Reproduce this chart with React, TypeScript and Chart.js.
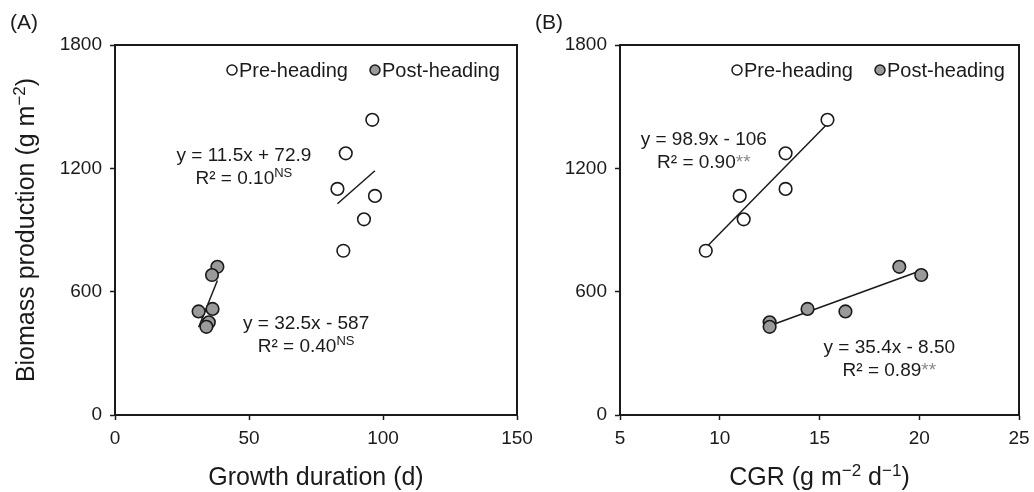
import React, { useEffect, useRef } from "react";
import { Chart, registerables } from "chart.js";

Chart.register(...registerables);

// ---------- data ----------
const preBiomass = [1436, 1273, 1100, 1066, 952, 799];
const preDuration = [96.0, 86.1, 83.0, 97.0, 92.9, 85.2];
const preCGR = [15.4, 13.3, 13.3, 11.0, 11.2, 9.3];

const postBiomass = [721, 681, 516, 504, 451, 429];
const postDuration = [38.2, 36.2, 36.4, 31.2, 35.0, 34.1];
const postCGR = [19.0, 20.1, 14.4, 16.3, 12.5, 12.5];

// regression equations [pre, post]
const durationFitSlopes = [11.5, 32.5];
const durationFitIntercepts = [72.9, -587];
const cgrFitSlopes = [98.9, 35.4];
const cgrFitIntercepts = [-106, -8.5];

const yTicks = [0, 600, 1200, 1800];
const durationTicks = [0, 50, 100, 150];
const cgrTicks = [5, 10, 15, 20, 25];

const seriesNames = ["Pre-heading", "Post-heading"];

const FONT = "'Liberation Sans', Arial, Helvetica, sans-serif";
const INK = "#1a1a1a";
const PRE_FILL = "#ffffff";
const POST_FILL = "#9a9a9a";
const STAR = "#8a8a8a";

type Seg = { t: string; sup?: boolean; color?: string };

function drawRich(
  ctx: CanvasRenderingContext2D,
  segs: Seg[],
  x: number,
  yMid: number,
  size: number,
  align: "center" | "left" = "center"
) {
  const widths = segs.map((s) => {
    ctx.font = `${s.sup ? Math.round(size * 0.66) : size}px ${FONT}`;
    return ctx.measureText(s.t).width;
  });
  const total = widths.reduce((a, b) => a + b, 0);
  let cx = align === "center" ? x - total / 2 : x;
  const base = yMid + size * 0.36;
  ctx.textAlign = "left";
  ctx.textBaseline = "alphabetic";
  segs.forEach((s, i) => {
    ctx.font = `${s.sup ? Math.round(size * 0.66) : size}px ${FONT}`;
    ctx.fillStyle = s.color || INK;
    ctx.fillText(s.t, cx, s.sup ? base - size * 0.38 : base);
    cx += widths[i];
  });
}

type Annot = { x: number; y: number; lines: Seg[][] };

type PanelProps = {
  left: number;
  width: number;
  plotLeft: number;
  plotRight: number;
  label: string;
  xs: [number[], number[]];
  slopes: number[];
  intercepts: number[];
  xMin: number;
  xMax: number;
  xTicks: number[];
  xTitle: Seg[];
  yTitle?: Seg[];
  annots: Annot[];
};

function Panel(p: PanelProps) {
  const ref = useRef<HTMLCanvasElement | null>(null);

  useEffect(() => {
    const canvas = ref.current;
    if (!canvas) return;
    const H = 492;
    const plotTop = 45;
    const plotBottom = 415;

    const fitData = (k: number) => {
      const xsArr = p.xs[k];
      const lo = Math.min(...xsArr);
      const hi = Math.max(...xsArr);
      return [lo, hi].map((x) => ({ x, y: p.slopes[k] * x + p.intercepts[k] }));
    };

    const textPlugin = {
      id: "panelText",
      afterDraw(chart: any) {
        const ctx: CanvasRenderingContext2D = chart.ctx;
        const ca = chart.chartArea;
        const xs = chart.scales.x;
        const ys = chart.scales.y;
        ctx.save();
        // box (top + right)
        ctx.strokeStyle = INK;
        ctx.lineWidth = 2;
        ctx.beginPath();
        ctx.moveTo(ca.left, ca.top);
        ctx.lineTo(ca.right, ca.top);
        ctx.lineTo(ca.right, ca.bottom);
        ctx.stroke();

        // panel label
        ctx.fillStyle = INK;
        ctx.font = `21px ${FONT}`;
        ctx.textAlign = "left";
        ctx.textBaseline = "middle";
        ctx.fillText(p.label, 10, 23);

        // legend
        const ly = ca.top + 25;
        let lx = ca.left + 117;
        const fills = [PRE_FILL, POST_FILL];
        seriesNames.forEach((name, i) => {
          ctx.beginPath();
          ctx.arc(lx, ly, 5, 0, Math.PI * 2);
          ctx.fillStyle = fills[i];
          ctx.fill();
          ctx.lineWidth = 1.5;
          ctx.strokeStyle = INK;
          ctx.stroke();
          drawRich(ctx, [{ t: name }], lx + 7, ly, 20, "left");
          lx += 143;
        });

        // equations
        p.annots.forEach((a) => {
          const px = xs.getPixelForValue(a.x);
          const py = ys.getPixelForValue(a.y);
          a.lines.forEach((ln, j) => drawRich(ctx, ln, px, py + j * 23, 19, "center"));
        });

        // x title
        drawRich(ctx, p.xTitle, (ca.left + ca.right) / 2, 476, 25, "center");

        // y title
        if (p.yTitle) {
          ctx.save();
          ctx.translate(25, (ca.top + ca.bottom) / 2);
          ctx.rotate(-Math.PI / 2);
          drawRich(ctx, p.yTitle, 0, 0, 25, "center");
          ctx.restore();
        }
        ctx.restore();
      },
    };

    const chart = new Chart(canvas, {
      type: "scatter",
      data: {
        datasets: [
          {
            label: seriesNames[0],
            data: p.xs[0].map((x, i) => ({ x, y: preBiomass[i] })),
            pointRadius: 6.3,
            pointBackgroundColor: PRE_FILL,
            pointBorderColor: INK,
            pointBorderWidth: 1.6,
            showLine: false,
          },
          {
            label: seriesNames[1],
            data: p.xs[1].map((x, i) => ({ x, y: postBiomass[i] })),
            pointRadius: 6.3,
            pointBackgroundColor: POST_FILL,
            pointBorderColor: INK,
            pointBorderWidth: 1.6,
            showLine: false,
          },
          {
            label: "fit pre",
            data: fitData(0),
            showLine: true,
            borderColor: INK,
            borderWidth: 1.5,
            pointRadius: 0,
          },
          {
            label: "fit post",
            data: fitData(1),
            showLine: true,
            borderColor: INK,
            borderWidth: 1.5,
            pointRadius: 0,
          },
        ],
      },
      options: {
        animation: false,
        responsive: false,
        devicePixelRatio: 1,
        layout: {
          padding: { top: plotTop, right: p.width - p.plotRight, bottom: 0, left: 0 },
        },
        plugins: {
          legend: { display: false },
          tooltip: { enabled: false },
        },
        scales: {
          x: {
            type: "linear",
            min: p.xMin,
            max: p.xMax,
            afterBuildTicks: (s: any) => {
              s.ticks = p.xTicks.map((v) => ({ value: v }));
            },
            afterFit: (s: any) => {
              s.height = H - plotBottom;
              s.paddingLeft = 0;
              s.paddingRight = 0;
            },
            ticks: {
              color: INK,
              font: { family: FONT, size: 19 },
              padding: 7,
              maxRotation: 0,
              callback: (v: any) => String(v),
            },
            grid: {
              drawOnChartArea: false,
              drawTicks: true,
              tickLength: 5,
              tickColor: INK,
              tickWidth: 1.5,
            },
            border: { display: true, color: INK, width: 2 },
          },
          y: {
            type: "linear",
            min: 0,
            max: 1800,
            afterBuildTicks: (s: any) => {
              s.ticks = yTicks.map((v) => ({ value: v }));
            },
            afterFit: (s: any) => {
              s.width = p.plotLeft;
              s.paddingTop = 0;
              s.paddingBottom = 0;
            },
            ticks: {
              color: INK,
              font: { family: FONT, size: 19 },
              padding: 8,
              callback: (v: any) => String(v),
            },
            grid: {
              drawOnChartArea: false,
              drawTicks: true,
              tickLength: 5,
              tickColor: INK,
              tickWidth: 1.5,
            },
            border: { display: true, color: INK, width: 2 },
          },
        },
      },
      plugins: [textPlugin],
    } as any);

    return () => chart.destroy();
  }, []);

  return (
    <canvas
      ref={ref}
      width={p.width}
      height={492}
      style={{ position: "absolute", left: p.left, top: 0, width: p.width, height: 492 }}
    />
  );
}

export default function App() {
  const fmtNS = (r: string): Seg[] => [{ t: `R² = ${r}` }, { t: "NS", sup: true }];
  const fmtStar = (r: string): Seg[] => [{ t: `R² = ${r}` }, { t: "**", color: STAR }];
  return (
    <div
      style={{
        position: "fixed",
        left: 0,
        top: 0,
        width: 1034,
        height: 492,
        background: "#fff",
        overflow: "hidden",
      }}
    >
      <Panel
        left={0}
        width={545}
        plotLeft={115}
        plotRight={517}
        label="(A)"
        xs={[preDuration, postDuration]}
        slopes={durationFitSlopes}
        intercepts={durationFitIntercepts}
        xMin={0}
        xMax={150}
        xTicks={durationTicks}
        xTitle={[{ t: "Growth duration (d)" }]}
        yTitle={[{ t: "Biomass production (g m" }, { t: "−2", sup: true }, { t: ")" }]}
        annots={[
          { x: 48.1, y: 1269, lines: [[{ t: "y = 11.5x + 72.9" }], fmtNS("0.10")] },
          { x: 71.3, y: 452, lines: [[{ t: "y = 32.5x - 587" }], fmtNS("0.40")] },
        ]}
      />
      <Panel
        left={525}
        width={509}
        plotLeft={95}
        plotRight={494}
        label="(B)"
        xs={[preCGR, postCGR]}
        slopes={cgrFitSlopes}
        intercepts={cgrFitIntercepts}
        xMin={5}
        xMax={25}
        xTicks={cgrTicks}
        xTitle={[
          { t: "CGR (g m" },
          { t: "−2", sup: true },
          { t: " d" },
          { t: "−1", sup: true },
          { t: ")" },
        ]}
        annots={[
          { x: 9.2, y: 1347, lines: [[{ t: "y = 98.9x - 106" }], fmtStar("0.90")] },
          { x: 18.5, y: 336, lines: [[{ t: "y = 35.4x - 8.50" }], fmtStar("0.89")] },
        ]}
      />
    </div>
  );
}
